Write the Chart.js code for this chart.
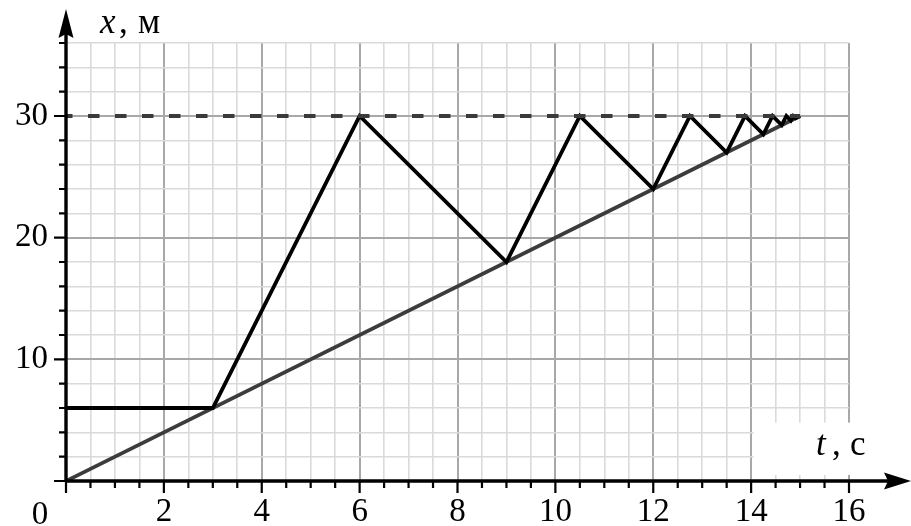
<!DOCTYPE html>
<html>
<head>
<meta charset="utf-8">
<script src="https://cdn.jsdelivr.net/npm/chart.js@4"></script>
<style>
  html, body { margin: 0; padding: 0; background: #fff; }
  #wrap { width: 911px; height: 526px; }
</style>
</head>
<body>
<div id="wrap"><canvas id="myChart" width="911" height="526"></canvas></div>
<script>
// time (c) and coordinate (м) of the bouncing body
var tBody = [0, 3, 6, 9, 10.5, 12, 12.75, 13.5, 13.875, 14.25, 14.4375, 14.625, 14.72, 14.81, 14.86, 14.91, 15];
var xBody = [6, 6, 30, 18, 30, 24, 30, 27, 30, 28.5, 30, 29.25, 30, 29.62, 30, 29.82, 30];
// straight line x = 2t
var tLine = [0, 15];
var xLine = [0, 30];
// dashed level x = 30
var tLevel = [0, 15];
var xLevel = [30, 30];

var xTickLabels = [2, 4, 6, 8, 10, 12, 14, 16];
var yTickLabels = [10, 20, 30];

function pts(ts, xs) {
  var out = [];
  for (var i = 0; i < ts.length; i++) out.push({x: ts[i], y: xs[i]});
  return out;
}

var serif = 'Liberation Serif';

var axesPlugin = {
  id: 'axesPlugin',
  beforeDatasetsDraw: function(chart) {
    var ctx = chart.ctx;
    var xs = chart.scales.x, ys = chart.scales.y;
    // white patch behind the "t, c" label
    var l = xs.getPixelForValue(14.05), r = xs.getPixelForValue(16.4);
    var t = ys.getPixelForValue(4.8), b = ys.getPixelForValue(0.5);
    ctx.save();
    ctx.fillStyle = '#fff';
    ctx.fillRect(l, t, r - l, b - t);
    ctx.restore();
  },
  afterDatasetsDraw: function(chart) {
    var ctx = chart.ctx;
    var xs = chart.scales.x, ys = chart.scales.y;
    var x0 = xs.getPixelForValue(0), y0 = ys.getPixelForValue(0);
    ctx.save();
    ctx.strokeStyle = '#000';
    ctx.fillStyle = '#000';
    ctx.lineWidth = 3.4;
    // axes
    ctx.beginPath();
    ctx.moveTo(x0, y0);
    ctx.lineTo(chart.width - 20, y0);
    ctx.moveTo(x0, y0);
    ctx.lineTo(x0, 32);
    ctx.stroke();
    // tick marks
    ctx.lineWidth = 2.2;
    ctx.beginPath();
    for (var v = 0; v <= 16; v += 0.5) {
      var px = xs.getPixelForValue(v);
      var len = (v % 2 === 0) ? 12 : 7;
      ctx.moveTo(px, y0);
      ctx.lineTo(px, y0 + len);
    }
    for (var w = 0; w <= 36; w += 2) {
      var py = ys.getPixelForValue(w);
      var ln = (w % 10 === 0) ? 12 : 7;
      ctx.moveTo(x0, py);
      ctx.lineTo(x0 - ln, py);
    }
    ctx.stroke();
    // arrows
    ctx.beginPath();
    ctx.moveTo(x0, 9);
    ctx.lineTo(x0 - 7.5, 38);
    ctx.lineTo(x0, 34);
    ctx.lineTo(x0 + 7.5, 38);
    ctx.closePath();
    ctx.fill();
    ctx.beginPath();
    ctx.moveTo(chart.width, y0);
    ctx.lineTo(chart.width - 27, y0 - 8.5);
    ctx.lineTo(chart.width - 23, y0);
    ctx.lineTo(chart.width - 27, y0 + 8.5);
    ctx.closePath();
    ctx.fill();
    // origin label and axis names
    ctx.textBaseline = 'alphabetic';
    ctx.font = '33px "' + serif + '"';
    ctx.textAlign = 'center';
    ctx.fillText('0', 40, 524);
    ctx.textAlign = 'left';
    ctx.font = 'italic 35px "' + serif + '"';
    ctx.fillText('x', 100, 33);
    ctx.fillText('t', 816, 455);
    ctx.font = '35px "' + serif + '"';
    ctx.fillText(',', 119, 33);
    ctx.fillText('м', 138, 33);
    ctx.fillText(',', 832, 455);
    ctx.fillText('c', 850, 455);
    ctx.restore();
  }
};

var ctx = document.getElementById('myChart').getContext('2d');
var myChart = new Chart(ctx, {
  type: 'line',
  data: {
    datasets: [
      {
        data: pts(tLevel, xLevel),
        borderColor: '#3a3a3a',
        borderWidth: 4,
        borderDash: [11.5, 15.5],
        borderDashOffset: 5,
        pointRadius: 0
      },
      {
        data: pts(tBody, xBody),
        borderColor: '#000',
        borderWidth: 3.8,
        pointRadius: 0,
        borderJoinStyle: 'miter'
      },
      {
        data: pts(tLine, xLine),
        borderColor: '#3c3c3c',
        borderWidth: 3.8,
        pointRadius: 0
      }
    ]
  },
  options: {
    responsive: false,
    animation: false,
    devicePixelRatio: 1,
    layout: { padding: { left: 0, right: 62, top: 43, bottom: 0 } },
    plugins: { legend: { display: false }, tooltip: { enabled: false } },
    scales: {
      x: {
        type: 'linear',
        min: 0,
        max: 16,
        afterFit: function(s) { s.height = 45; },
        border: { display: false },
        grid: {
          drawTicks: false,
          color: function(c) { return c.tick && c.tick.value % 2 === 0 ? '#a8a8a8' : '#dadada'; },
          lineWidth: function(c) { return c.tick && c.tick.value % 2 === 0 ? 2 : 1.6; }
        },
        ticks: {
          stepSize: 0.5,
          autoSkip: false,
          maxRotation: 0,
          padding: 12,
          color: '#000',
          font: { family: serif, size: 33 },
          callback: function(v) { return xTickLabels.indexOf(v) >= 0 ? String(v) : ''; }
        }
      },
      y: {
        type: 'linear',
        min: 0,
        max: 36,
        afterFit: function(s) { s.width = 66; },
        border: { display: false },
        grid: {
          drawTicks: false,
          color: function(c) { return c.tick && c.tick.value % 10 === 0 ? '#a8a8a8' : '#dadada'; },
          lineWidth: function(c) { return c.tick && c.tick.value % 10 === 0 ? 2 : 1.6; }
        },
        ticks: {
          stepSize: 2,
          autoSkip: false,
          padding: 18,
          color: '#000',
          font: { family: serif, size: 33 },
          callback: function(v) { return yTickLabels.indexOf(v) >= 0 ? String(v) : ''; }
        }
      }
    }
  },
  plugins: [axesPlugin]
});
</script>
</body>
</html>
